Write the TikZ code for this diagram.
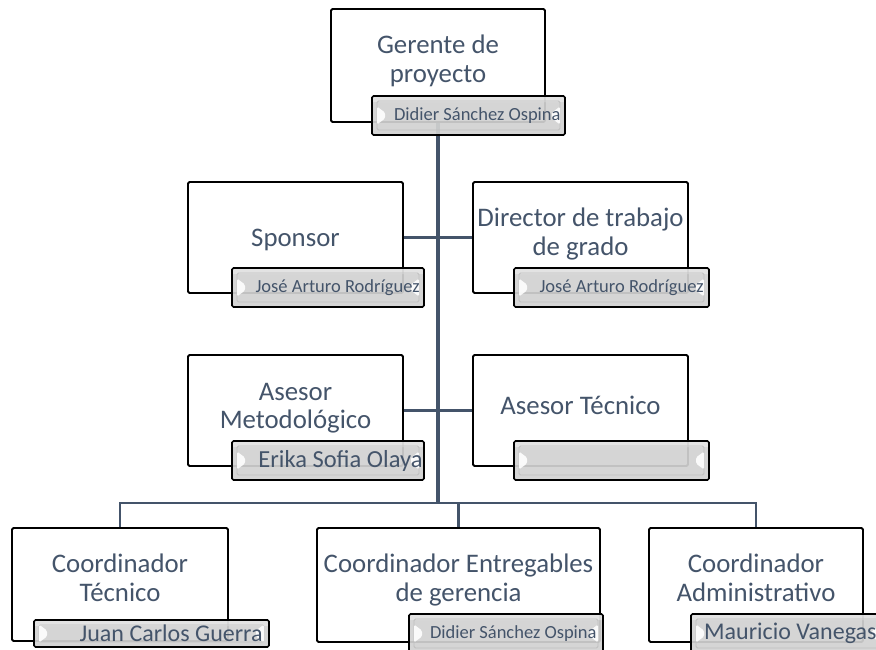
\documentclass[tikz,border=0pt]{standalone}
\usepackage{fontspec}
\setmainfont{Carlito}
\usetikzlibrary{calc}
\definecolor{txt}{HTML}{44546A}
\definecolor{connc}{HTML}{44546A}
\definecolor{tabgray}{HTML}{D2D2D2}
\tikzset{
  orgbox/.style={draw=black, line width=1.8pt, rounded corners=1.5pt, fill=white, inner sep=0pt},
  title/.style={text=txt, align=center, inner sep=0pt, font=\fontsize{26.8}{28.5}\selectfont},
  conn/.style={draw=connc, line width=2.6pt},
  mainconn/.style={draw=connc, line width=3.4pt},
  tabbox/.style={draw=black, line width=1.6pt, rounded corners=1.5pt, fill=tabgray, fill opacity=0.92, inner sep=0pt,
    path picture={
      \fill[white, opacity=0.35] (path picture bounding box.north west) rectangle ([yshift=-6pt]path picture bounding box.north east);
      \draw[black!25, line width=0.8pt] ([xshift=5pt,yshift=-5pt]path picture bounding box.north west) rectangle ([xshift=-5pt,yshift=5pt]path picture bounding box.south east);
      \fill[white, opacity=0.9] ([xshift=5pt,yshift=9pt]path picture bounding box.west) -- ([xshift=13pt,yshift=3pt]path picture bounding box.west) -- ([xshift=13pt,yshift=-3pt]path picture bounding box.west) -- ([xshift=5pt,yshift=-9pt]path picture bounding box.west) -- cycle;
      \fill[white, opacity=0.9] ([xshift=-5pt,yshift=9pt]path picture bounding box.east) -- ([xshift=-13pt,yshift=3pt]path picture bounding box.east) -- ([xshift=-13pt,yshift=-3pt]path picture bounding box.east) -- ([xshift=-5pt,yshift=-9pt]path picture bounding box.east) -- cycle;
    }},
  tabtext/.style={text=txt, inner sep=0pt, anchor=east}
}
\begin{document}
\begin{tikzpicture}[x=1pt,y=-1pt]
\useasboundingbox (0,0) rectangle (876,649);
\fill[white] (0,0) rectangle (876,649);
\clip (0,0) rectangle (876,649);

% boxes
\node[orgbox, minimum width=214pt, minimum height=113pt] (top) at (438,65.5) {};
\node[orgbox, minimum width=215pt, minimum height=111pt] (sp) at (295.5,237.5) {};
\node[orgbox, minimum width=215pt, minimum height=111pt] (di) at (580.5,237.5) {};
\node[orgbox, minimum width=215pt, minimum height=111pt] (me) at (295.5,410.5) {};
\node[orgbox, minimum width=215pt, minimum height=111pt] (te) at (580.5,410.5) {};
\node[orgbox, minimum width=216pt, minimum height=113pt] (ct) at (120,584.5) {};
\node[orgbox, minimum width=283pt, minimum height=114pt] (en) at (458.5,585) {};
\node[orgbox, minimum width=214pt, minimum height=114pt] (ad) at (756,585) {};

% connectors
\coordinate (bar) at (438,503);
\draw[conn] (sp.east) -- (di.west);
\draw[conn] (me.east) -- (te.west);
\draw[conn] (ct.north) -- (ct.north |- bar) -- (ad.north |- bar) -- (ad.north);
\draw[conn] (en.north) -- (en.north |- bar);
\draw[mainconn] (top.south) -- (bar);

% tabs
\node[tabbox, minimum width=193pt, minimum height=39pt] (ttop) at (468.5,115.5) {};
\node[tabbox, minimum width=192pt, minimum height=39pt] (tsp) at (328,287.5) {};
\node[tabbox, minimum width=195pt, minimum height=39pt] (tdi) at (611.5,287.5) {};
\node[tabbox, minimum width=192pt, minimum height=39pt] (tme) at (328,460.5) {};
\node[tabbox, minimum width=195pt, minimum height=39pt] (tte) at (611.5,460.5) {};
\node[tabbox, minimum width=235pt, minimum height=27pt] (tct) at (151.5,633.5) {};
\node[tabbox, minimum width=194pt, minimum height=39pt] (ten) at (506,633.5) {};
\node[tabbox, minimum width=194pt, minimum height=39pt] (tad) at (788,633.5) {};

% titles
\node[title] (ltop) at (438,61) {Gerente de\\proyecto};
\node[title] (lsp) at (295.5,240) {Sponsor};
\node[title] (ldi) at (580.5,234) {Director de trabajo\\de grado};
\node[title] (lme) at (295.5,408) {Asesor\\Metodológico};
\node[title] (lte) at (580.5,405) {Asesor Técnico};
\node[title] (lct) at (120,578) {Coordinador\\Técnico};
\node[title] (len) at (458.5,580) {Coordinador Entregables\\de gerencia};
\node[title] (lad) at (756,578) {Coordinador\\Administrativo};

% tab texts
\node[tabtext, font=\fontsize{18.5}{20}\selectfont] (ntop) at ([xshift=-5pt]ttop.east) {Didier Sánchez Ospina};
\node[tabtext, font=\fontsize{18.5}{20}\selectfont] (nsp) at ([xshift=-5pt]tsp.east) {José Arturo Rodríguez};
\node[tabtext, font=\fontsize{18.5}{20}\selectfont] (ndi) at ([xshift=-6pt]tdi.east) {José Arturo Rodríguez};
\node[tabtext, font=\fontsize{24.5}{26}\selectfont] (nme) at ([xshift=-2pt]tme.east) {Erika Sofia Olaya};
\node[tabtext, font=\fontsize{24}{26}\selectfont] (nct) at ([xshift=-7pt]tct.east) {Juan Carlos Guerra};
\node[tabtext, font=\fontsize{18.5}{20}\selectfont] (nen) at ([xshift=-7pt]ten.east) {Didier Sánchez Ospina};
\node[tabtext, font=\fontsize{24}{26}\selectfont, anchor=west] (nad) at (704,633.5) {Mauricio Vanegas};
\end{tikzpicture}
\end{document}
